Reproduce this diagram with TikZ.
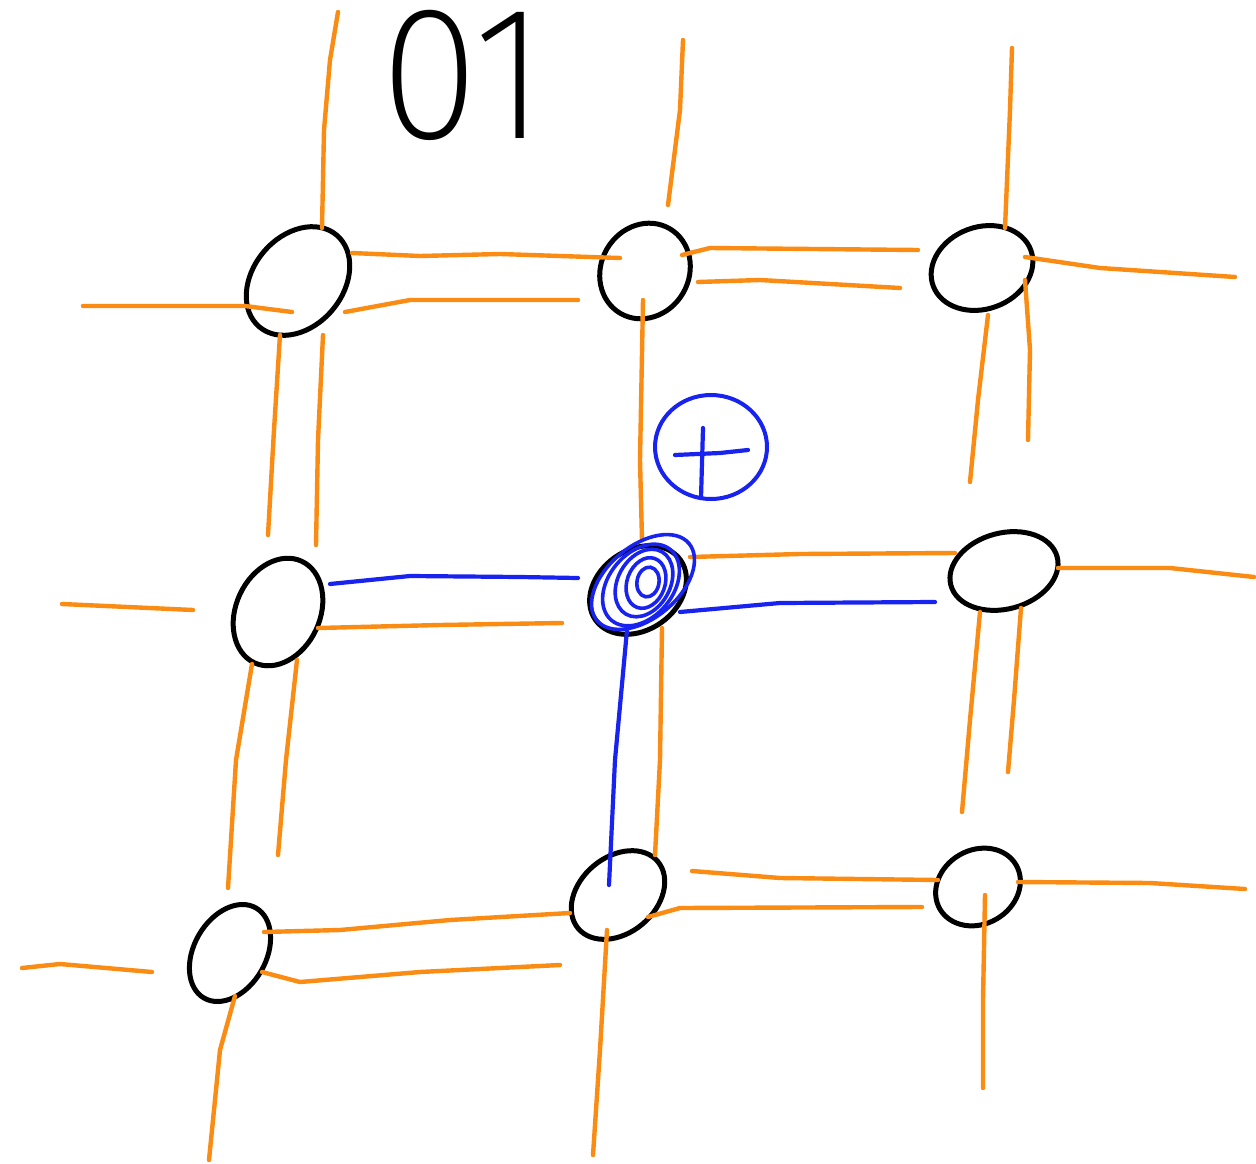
\documentclass[tikz,border=0pt]{standalone}
\usepackage{fontspec}
\newfontfamily\handfont{Fira Sans ExtraLight}
\usetikzlibrary{shapes.geometric}
\definecolor{orng}{RGB}{250,140,20}
\definecolor{pen}{RGB}{25,35,240}
\begin{document}
\begin{tikzpicture}[x=1pt,y=-1pt,line cap=round,line join=round,
  oline/.style={draw=orng,line width=4.4pt},
  bline/.style={draw=pen,line width=4.2pt},
  knot/.style={ellipse,draw=black,line width=5pt,inner sep=0pt,outer sep=0pt},
  scribble/.style={draw=pen,line width=3.6pt}]
\useasboundingbox[fill=white] (0,0) rectangle (1256,1164);

% handwritten label
\node[anchor=base west,inner sep=0pt,xscale=0.95,text height=132pt,text depth=0pt,font=\handfont\fontsize{190}{190}\selectfont] (lbl) at (380,138) {01};

% knots
\node[knot,minimum width=120,minimum height=90,rotate=50] (n11) at (298,281) {};
\node[knot,minimum width=98,minimum height=88,rotate=60] (n12) at (645,271) {};
\node[knot,minimum width=104,minimum height=82,rotate=20] (n13) at (982,268) {};
\node[knot,minimum width=112,minimum height=84,rotate=65] (n21) at (278,612) {};
\node[knot,minimum width=104,minimum height=80,rotate=35] (n22) at (638,590) {};
\node[knot,minimum width=110,minimum height=76,rotate=15] (n23) at (1004,571) {};
\node[knot,minimum width=104,minimum height=72,rotate=60] (n31) at (230,953) {};
\node[knot,minimum width=104,minimum height=76,rotate=40] (n32) at (618,895) {};
\node[knot,minimum width=88,minimum height=74,rotate=30] (n33) at (978,887) {};

% orange strands: top verticals
\draw[oline] (338,12) -- (330,60) -- (324,130) -- (322,228);
\draw[oline] (683,40) -- (680,110) -- (668,205);
\draw[oline] (1012,48) -- (1010,110) -- (1005,228);
% row 1 horizontals
\draw[oline] (83,306) -- (245,306) -- (292,312);
\draw[oline] (352,253) -- (420,256) -- (500,254) -- (620,258);
\draw[oline] (345,312) -- (410,300) -- (578,300);
\draw[oline] (682,255) -- (710,248) -- (918,250);
\draw[oline] (698,282) -- (760,280) -- (900,288);
\draw[oline] (1025,257) -- (1100,268) -- (1235,277);
% verticals between rows 1 and 2
\draw[oline] (280,335) -- (274,430) -- (268,535);
\draw[oline] (323,335) -- (318,440) -- (316,545);
\draw[oline] (643,300) -- (640,460) -- (642,540);
\draw[oline] (988,315) -- (978,400) -- (970,482);
\draw[oline] (1025,280) -- (1030,350) -- (1028,440);
% row 2 horizontals
\draw[oline] (62,604) -- (193,610);
\draw[oline] (318,628) -- (440,625) -- (562,623);
\draw[oline] (690,557) -- (800,554) -- (955,553);
\draw[oline] (1058,568) -- (1170,568) -- (1254,577);
% verticals between rows 2 and 3
\draw[oline] (252,664) -- (236,760) -- (228,888);
\draw[oline] (297,660) -- (286,760) -- (278,855);
\draw[oline] (662,628) -- (660,760) -- (655,855);
\draw[oline] (980,612) -- (970,720) -- (962,812);
\draw[oline] (1021,608) -- (1014,700) -- (1008,772);
% row 3 horizontals
\draw[oline] (22,968) -- (60,964) -- (152,972);
\draw[oline] (264,932) -- (340,930) -- (450,920) -- (570,913);
\draw[oline] (262,972) -- (300,982) -- (420,972) -- (560,965);
\draw[oline] (692,871) -- (780,878) -- (938,880);
\draw[oline] (648,917) -- (680,908) -- (922,907);
\draw[oline] (1018,882) -- (1150,883) -- (1245,889);
% bottom verticals
\draw[oline] (235,996) -- (220,1050) -- (209,1160);
\draw[oline] (607,930) -- (600,1050) -- (593,1155);
\draw[oline] (985,895) -- (983,1000) -- (983,1088);

% blue path through the centre knot
\draw[bline] (330,584) -- (410,576) -- (520,577) -- (578,578);
\draw[bline] (680,612) -- (780,603) -- (935,602);
\draw[bline] (627,630) -- (615,760) -- (609,885);
\draw[scribble,rotate around={40:(643,582)}] (643,582) ellipse [x radius=60,y radius=36];
\draw[scribble,rotate around={50:(641,585)}] (641,585) ellipse [x radius=46,y radius=32];
\draw[scribble,rotate around={60:(644,583)}] (644,583) ellipse [x radius=36,y radius=26];
\draw[scribble,rotate around={70:(646,583)}] (646,583) ellipse [x radius=26,y radius=19];
\draw[scribble,rotate around={80:(648,582)}] (648,582) ellipse [x radius=15,y radius=11];

% plus sign in a circle
\node[ellipse,draw=pen,line width=4pt,minimum width=112,minimum height=104,inner sep=0pt] (plus) at (711,447) {};
\draw[bline] (703,428) -- (701,498);
\draw[bline] (675,455) -- (720,453) -- (748,450);
\end{tikzpicture}
\end{document}
